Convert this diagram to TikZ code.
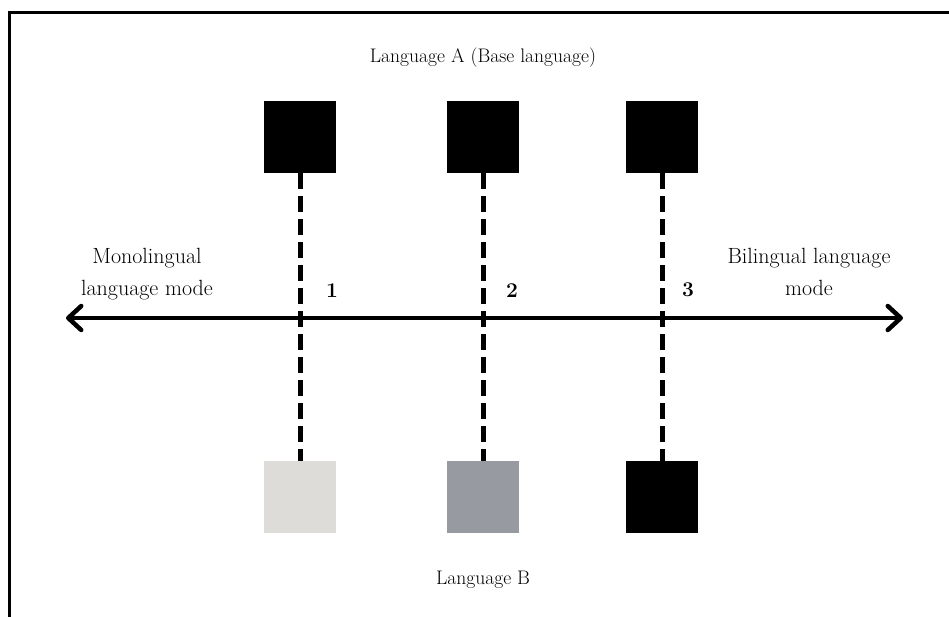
\documentclass[tikz,border=0pt]{standalone}
\usepackage{fontspec}
\usetikzlibrary{arrows.meta}
\definecolor{paleB}{HTML}{DDDCD8}
\definecolor{midB}{HTML}{979AA1}
\begin{document}
\begin{tikzpicture}[x=1pt,y=-1pt,
  sq/.style={draw=none,minimum width=72pt,minimum height=72pt,inner sep=0pt},
  link/.style={line width=5pt,dash pattern=on 16pt off 7pt},
  axis/.style={line width=4.5pt,
    {Straight Barb[length=13pt,width=24pt,round]}-{Straight Barb[length=13pt,width=24pt,round]}},
  lab/.style={font=\fontsize{22}{32}\selectfont,align=center,inner sep=0pt},
  langlab/.style={font=\fontsize{19.6}{22}\selectfont,inner sep=0pt},
  num/.style={font=\fontsize{21}{22}\selectfont\bfseries,inner sep=0pt}]
\useasboundingbox (0,0) rectangle (949,617);
\fill[white] (0,0) rectangle (949,617);
% frame (top and left edges)
\draw[line width=3pt] (9.5,617) -- (9.5,13) -- (949,13);

% Language A squares
\node[sq,fill=black] (a1) at (300,137) {};
\node[sq,fill=black] (a2) at (483,137) {};
\node[sq,fill=black] (a3) at (662,137) {};
% Language B squares
\node[sq,fill=paleB] (b1) at (300,497) {};
\node[sq,fill=midB] (b2) at (483,497) {};
\node[sq,fill=black] (b3) at (662,497) {};

% dashed links
\draw[link] (a1.south) -- (b1.north);
\draw[link] (a2.south) -- (b2.north);
\draw[link] (a3.south) -- (b3.north);

% mode axis
\coordinate (left) at (66,318);
\coordinate (right) at (903,318);
\draw[axis] (left) -- (right);

% labels (base anchor sits on the last line)
\node[langlab,anchor=base] (la) at (483,63) {Language A (Base language)};
\node[langlab,anchor=base] (lb) at (483,584) {Language B};
\node[lab,anchor=base] (mono) at (147,295) {Monolingual\\language mode};
\node[lab,anchor=base] (bil) at (809,295) {Bilingual language\\mode};
\node[num,anchor=base] (n1) at (332,297) {1};
\node[num,anchor=base] (n2) at (512,297) {2};
\node[num,anchor=base] (n3) at (688,296) {3};
\end{tikzpicture}
\end{document}
